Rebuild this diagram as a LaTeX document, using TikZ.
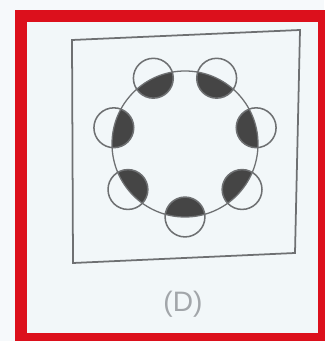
\documentclass[tikz,border=0pt]{standalone}
\usepackage{fontspec}
\setmainfont{Liberation Sans}
\usetikzlibrary{positioning, calc}

\definecolor{framered}{HTML}{DC101C}
\definecolor{paper}{HTML}{F2F7F9}
\definecolor{inkgray}{HTML}{6E7072}
\definecolor{inkdark}{HTML}{454545}
\definecolor{labelgray}{HTML}{A2A6AA}

\begin{document}
\begin{tikzpicture}[
    x=0.03cm, y=0.03cm,
    frame/.style={draw=framered, line width=9.5pt},
    panel/.style={draw=inkgray, line width=1.5pt, fill=paper},
    ring/.style={draw=inkgray, line width=1.1pt},
    bead/.style={circle, minimum size=34pt, inner sep=0pt, draw=inkgray, line width=1.3pt},
    half/.style={fill=inkdark},
    caption/.style={text=labelgray, font=\fontsize{24}{28}\selectfont}
]
    \useasboundingbox[fill=paper!70!white] (0,0) rectangle (324,341);

    % red frame
    \fill[paper] (21,2) rectangle (324,325);
    \draw[frame] (21,-10) -- (21,325) -- (335,325);
    \draw[frame] (323.5,325) -- (323.5,-10);
    \draw[frame] (21,2.5) -- (335,2.5);

    % tilted square
    \coordinate (tl) at (72,301);
    \coordinate (tr) at (300,311);
    \coordinate (br) at (295,88);
    \coordinate (bl) at (73,78);
    \draw[panel] (tl) -- (tr) -- (br) -- (bl) -- cycle;

    % ring of beads
    \coordinate (o) at (185,197);
    \foreach \i in {1,...,7}
        \coordinate (p\i) at ($(o)+({-90+51.43*(\i-1)}:73)$);
    \begin{scope}
        \clip (o) circle (73);
        \foreach \i in {1,...,7}
            \fill[half] (p\i) circle (20);
    \end{scope}
    \draw[ring] (o) circle (73);
    \foreach \i in {1,...,7}
        \node[bead] (c\i) at (p\i) {};

    % caption
    \node[caption] (label) at (183,37) {(D)};

\end{tikzpicture}
\end{document}
